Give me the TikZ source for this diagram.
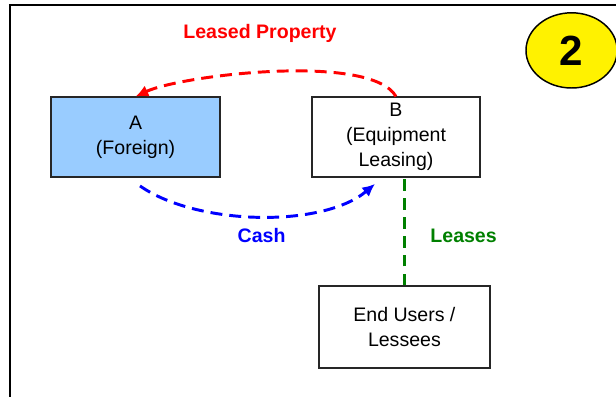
\documentclass[tikz,border=0pt]{standalone}
\usepackage{fontspec}
\setmainfont{Liberation Sans}
\usetikzlibrary{arrows.meta,shapes.geometric}

\definecolor{foreignblue}{HTML}{99CCFF}
\definecolor{leasegreen}{HTML}{008000}

\begin{document}
\begin{tikzpicture}[>={Latex[length=9pt,width=8.5pt]}, font=\fontsize{13.9}{17.8}\selectfont,
  party/.style={draw=black!85, line width=1.05pt, align=center, inner sep=0pt,
    minimum height=2cm},
  flow/.style={line width=2.1pt, dash pattern=on 8.5pt off 5pt},
  flowlabel/.style={font=\fontsize{13.9}{17.8}\selectfont\bfseries}]
  \useasboundingbox (0,0) rectangle (15.4,-9.925);

  % Rahmen oben und links
  \draw[line width=1.8pt] (0.22,-0.125) -- (15.4,-0.125);
  \draw[line width=1.8pt] (0.25,-0.125) -- (0.25,-9.925);

  % Nummer im gelben Oval
  \node[ellipse, draw, line width=1.05pt, fill=yellow, inner sep=0pt,
    minimum width=2.28cm, minimum height=1.88cm] (nummer) at (14.29,-1.26)
    {\fontsize{30}{30}\selectfont\bfseries 2};

  % Beteiligte
  \node[party, fill=foreignblue, minimum width=4.225cm] (A) at (3.39,-3.43) {A\\(Foreign)};
  \node[party, fill=white, minimum width=4.2cm] (B) at (9.9,-3.43) {B\\(Equipment\\Leasing)};
  \node[party, minimum width=4.275cm, minimum height=2.05cm] (E) at (10.11,-8.18)
    {End Users /\\Lessees};

  % Fluesse zwischen A und B
  \draw[flow, ->, red] (B.north) to[out=120, in=25, looseness=0.5] (A.north);
  \draw[flow, ->, blue] ([xshift=0.11cm,yshift=-0.2cm]A.south)
    to[out=-35, in=220, looseness=0.75] ([xshift=-0.525cm,yshift=-0.15cm]B.south);
  \draw[flow, leasegreen] (E.north) -- (E.north |- B.south);

  \node[flowlabel, text=red] (eigentum) at (6.5,-0.83) {Leased Property};
  \node[flowlabel, text=blue] (cash) at (6.54,-5.9) {Cash};
  \node[flowlabel, text=leasegreen] (leases) at (11.59,-5.9) {Leases};
\end{tikzpicture}
\end{document}
